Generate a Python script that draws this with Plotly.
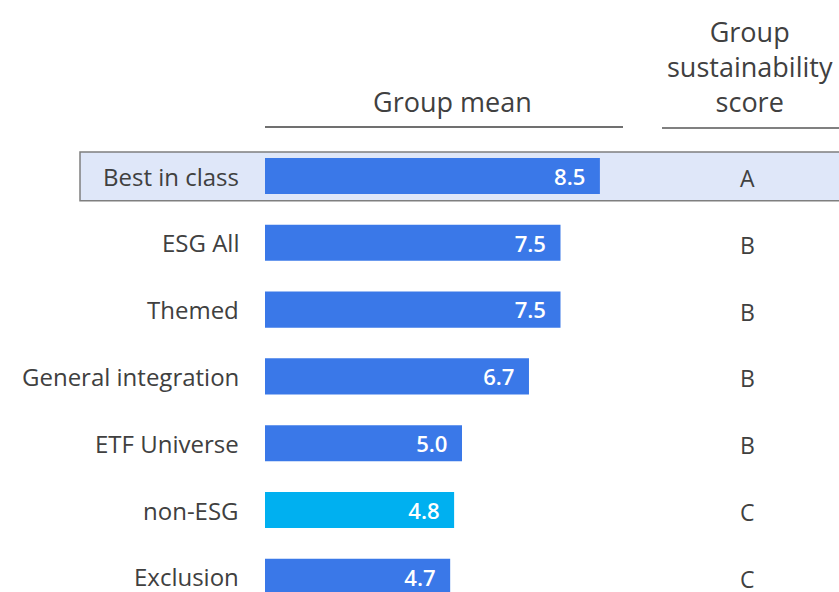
'''
    Horizontal bar chart of group mean scores with a sustainability score column.
'''

import plotly.graph_objects as go

categories = ['Best in class', 'ESG All', 'Themed', 'General integration',
              'ETF Universe', 'non-ESG', 'Exclusion']
group_mean = [8.5, 7.5, 7.5, 6.7, 5.0, 4.8, 4.7]
scores = ['A', 'B', 'B', 'B', 'B', 'C', 'C']
highlight = 'Best in class'
benchmark = 'non-ESG'

BLUE = '#3a78e8'
CYAN = '#00b0f0'
TEXT = '#404040'
FONT = 'Open Sans'

W, H = 839, 592
PX_PER_UNIT = 39.4      # horizontal scale of the bars
ROW_PX = 66.8           # distance between rows
X0_PX = 265             # left end of the bars
Y0_PX = 176             # centre of first row

# axis ranges so the plot area can cover the whole page
x_range = [-X0_PX / PX_PER_UNIT, (W - X0_PX) / PX_PER_UNIT]
y_top = -Y0_PX / ROW_PX
y_bottom = y_top + H / ROW_PX

idx = list(range(len(categories)))
colors = [CYAN if c == benchmark else BLUE for c in categories]

fig = go.Figure()

# highlighted row box
hi = categories.index(highlight)
fig.add_shape(type='rect', xref='x', yref='y',
              x0=-185 / PX_PER_UNIT, x1=x_range[1] + 1,
              y0=hi - 0.36, y1=hi + 0.37,
              fillcolor='#dfe7f9', line=dict(color='#7f7f7f', width=1.5),
              layer='below')

fig.add_trace(go.Bar(
    x=group_mean, y=idx, orientation='h',
    marker=dict(color=colors, line=dict(width=0)),
    width=0.54,
    text=[f'{v:.1f}\u00a0\u00a0' for v in group_mean],
    textposition='inside', insidetextanchor='end',
    textfont=dict(family=FONT, size=25, color='white', weight=600),
    hoverinfo='skip',
))

# category labels and score letters
for i, (cat, sc) in enumerate(zip(categories, scores)):
    fig.add_annotation(x=0, y=i, xref='x', yref='y', text=cat,
                       xanchor='right', xshift=-24, showarrow=False,
                       font=dict(family=FONT, size=24, color=TEXT))
    fig.add_annotation(x=(747 - X0_PX) / PX_PER_UNIT, y=i + 0.03, xref='x', yref='y',
                       text=sc, xanchor='center', showarrow=False,
                       font=dict(family=FONT, size=23, color=TEXT))

# column headers
fig.add_annotation(x=452 / W, y=1 - 102 / H, xref='paper', yref='paper',
                   text='Group mean', showarrow=False,
                   xanchor='center', yanchor='middle',
                   font=dict(family=FONT, size=27, color=TEXT))
fig.add_annotation(x=750 / W, y=1 - 67 / H, xref='paper', yref='paper',
                   text='Group<br>sustainability<br>score', showarrow=False,
                   xanchor='center', yanchor='middle', align='center',
                   font=dict(family=FONT, size=27, color=TEXT))
fig.add_shape(type='line', xref='paper', yref='paper',
              x0=265 / W, x1=623 / W, y0=1 - 127 / H, y1=1 - 127 / H,
              line=dict(color='#404040', width=1.5))
fig.add_shape(type='line', xref='paper', yref='paper',
              x0=662 / W, x1=1, y0=1 - 128 / H, y1=1 - 128 / H,
              line=dict(color='#808080', width=2))

fig.update_layout(
    width=W, height=H,
    margin=dict(l=0, r=0, t=0, b=0),
    paper_bgcolor='white', plot_bgcolor='rgba(0,0,0,0)',
    showlegend=False,
    xaxis=dict(range=x_range, visible=False, fixedrange=True),
    yaxis=dict(range=[y_bottom, y_top], visible=False, fixedrange=True),
)

# drop the page's default body margin so the figure sits at the top-left corner
fig.write_html('out.html', config={'displayModeBar': False},
               post_script="document.body.style.margin='0';")
